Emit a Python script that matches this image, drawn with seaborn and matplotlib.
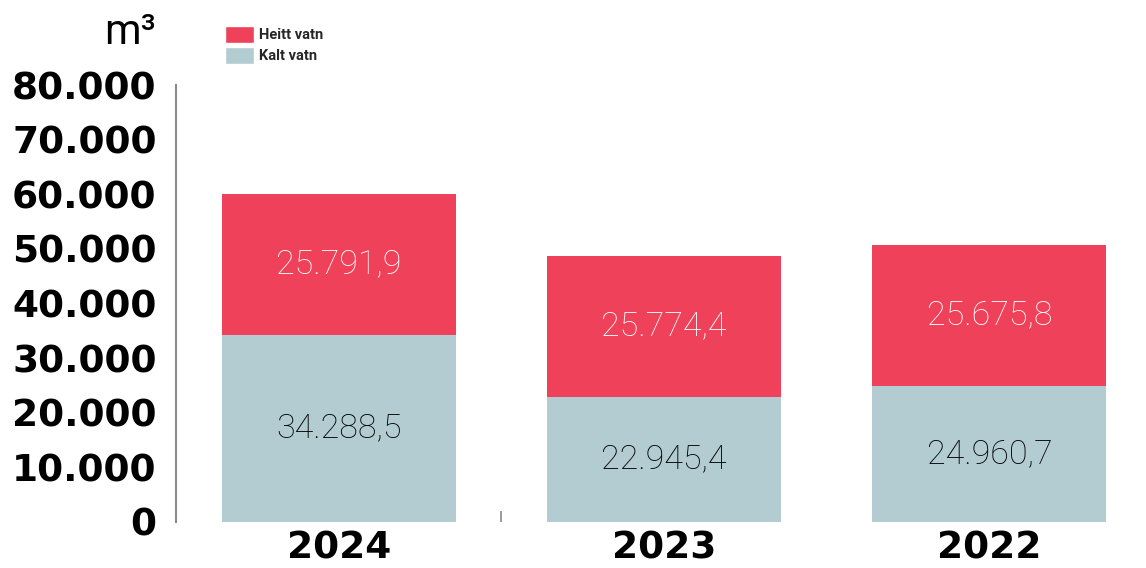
import matplotlib
matplotlib.use("Agg")
import numpy as np
import pandas as pd
import seaborn as sns
import matplotlib.pyplot as plt
from matplotlib.patches import Patch

### DATA ###
years = ["2024", "2023", "2022"]
heitt_vatn = [25791.9, 25774.4, 25675.8]
kalt_vatn = [34288.5, 22945.4, 24960.7]
y_ticks = [0, 10000, 20000, 30000, 40000, 50000, 60000, 70000, 80000]

RED = "#F0415A"
BLUE = "#B2CCD2"
AXIS_GREY = "#8a8a8a"
LABEL_FONT = ["Roboto", "DejaVu Sans"]


def eu_format(v, decimals=1):
    # 25791.9 -> "25.791,9"
    s = f"{v:,.{decimals}f}"
    return s.replace(",", "X").replace(".", ",").replace("X", ".")


sns.set_style("white")
plt.rcParams["font.family"] = ["DejaVu Sans"]

df = pd.DataFrame({"year": years, "heitt": heitt_vatn, "kalt": kalt_vatn})
df["total"] = df["heitt"] + df["kalt"]

fig = plt.figure(figsize=(11.46, 5.68), dpi=100)
ax = fig.add_axes([176 / 1146, 46 / 568, 976 / 1146, 437 / 568])

# stacked bars: total in red, cold water drawn on top of it
sns.barplot(data=df, x="year", y="total", color=RED, width=0.72, saturation=1,
            linewidth=0, ax=ax)
sns.barplot(data=df, x="year", y="kalt", color=BLUE, width=0.72, saturation=1,
            linewidth=0, ax=ax)

for i, row in df.iterrows():
    ax.text(i, row["kalt"] + row["heitt"] / 2, eu_format(row["heitt"]),
            ha="center", va="center", color="white", fontsize=24.5,
            family=LABEL_FONT, fontweight="light")
    ax.text(i, row["kalt"] / 2, eu_format(row["kalt"]),
            ha="center", va="center", color="black", fontsize=24.5,
            family=LABEL_FONT, fontweight="light")

ax.set_xlim(-0.5, 2.5)
ax.set_ylim(0, 80000)
ax.set_yticks(y_ticks)
ax.set_yticklabels([eu_format(t, 0) for t in y_ticks], fontsize=27,
                   fontweight="bold", color="black")
ax.set_xticks(range(len(years)))
ax.set_xticklabels(years, fontsize=27, fontweight="bold", color="black")
ax.set_xlabel("")
ax.set_ylabel("")

ax.tick_params(axis="y", length=0, pad=14)
ax.tick_params(axis="x", which="major", length=0, pad=6)
ax.set_xticks([-0.5, 0.5], minor=True)
ax.tick_params(axis="x", which="minor", bottom=True, direction="in", length=8,
               width=1.2, color=AXIS_GREY)

for side in ["top", "right", "bottom"]:
    ax.spines[side].set_visible(False)
ax.spines["left"].set_color(AXIS_GREY)
ax.spines["left"].set_linewidth(1.5)

fig.text(104 / 1146, 1 - 32 / 568, "m³", fontsize=30, va="center", ha="left",
         family=LABEL_FONT, color="black")

handles = [Patch(facecolor=RED, label="Heitt vatn"), Patch(facecolor=BLUE, label="Kalt vatn")]
fig.legend(handles=handles, loc="upper left", bbox_to_anchor=(215 / 1146, 1 - 16 / 568),
           frameon=False, handlelength=2.0, handleheight=1.4,
           handletextpad=0.3, labelspacing=0.25, borderpad=0.2,
           prop={"family": ["Roboto", "DejaVu Sans"], "weight": "bold", "size": 10.5})

fig.savefig("out.png", dpi=100)
